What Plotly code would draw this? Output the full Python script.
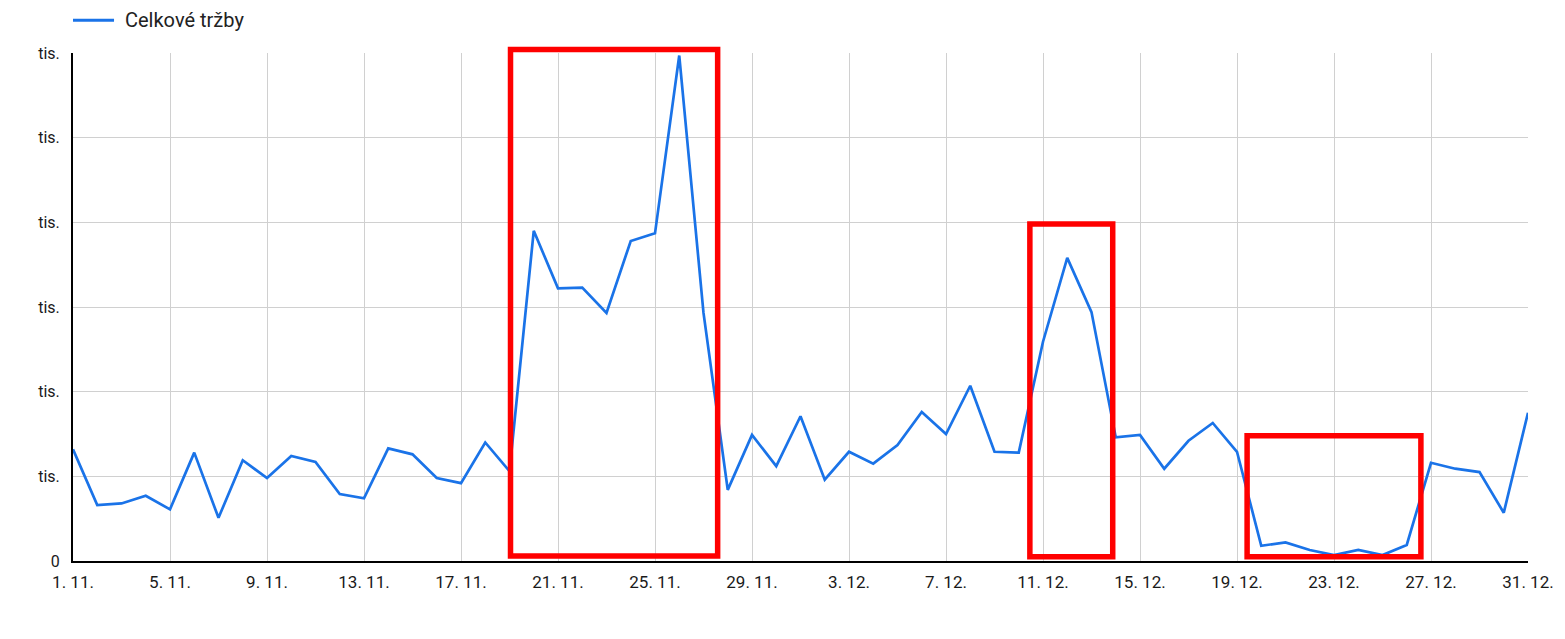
import plotly.graph_objects as go
import pandas as pd

dates = pd.date_range("2023-11-01", "2023-12-31", freq="D").strftime("%Y-%m-%d").tolist()
sales_thousands = [
    1.32, 0.66, 0.68, 0.77, 0.61, 1.28, 0.51, 1.19, 0.98, 1.24,
    1.17, 0.79, 0.74, 1.33, 1.26, 0.98, 0.92, 1.40, 1.06, 3.90,
    3.22, 3.23, 2.93, 3.78, 3.87, 5.97, 2.93, 0.84, 1.49, 1.12,
    1.71, 0.96, 1.29, 1.15, 1.37, 1.76, 1.50, 2.07, 1.29, 1.28,
    2.59, 3.58, 2.94, 1.46, 1.49, 1.09, 1.42, 1.63, 1.29, 0.18,
    0.22, 0.13, 0.07, 0.13, 0.07, 0.19, 1.16, 1.09, 1.05, 0.57,
    1.75,
]
series_name = "Celkové tržby"
y_tickvals = [0, 1, 2, 3, 4, 5, 6]
y_ticktext = ["0", "tis.", "tis.", "tis.", "tis.", "tis.", "tis."]

# highlight boxes (x0, x1 as datetimes, y0, y1 in thousands)
highlight_boxes = [
    ("2023-11-19 01:00", "2023-11-27 14:00", 0.06, 6.04),
    ("2023-12-10 11:00", "2023-12-13 21:00", 0.05, 3.98),
    ("2023-12-19 10:00", "2023-12-26 14:00", 0.05, 1.48),
]

x_start = pd.Timestamp(dates[0])
x_end = pd.Timestamp(dates[-1])
y_max = 6.0
line_color = "#1a73e8"


def xpaper(d):
    return (pd.Timestamp(d) - x_start) / (x_end - x_start)


fig = go.Figure()
fig.add_trace(go.Scatter(
    x=dates, y=sales_thousands, mode="lines", name=series_name,
    line=dict(color=line_color, width=2.7), showlegend=False,
))

for x0, x1, y0, y1 in highlight_boxes:
    fig.add_shape(type="rect", x0=xpaper(x0), x1=xpaper(x1), y0=y0 / y_max, y1=y1 / y_max,
                  xref="paper", yref="paper",
                  line=dict(color="#ff0000", width=5.5), fillcolor="rgba(0,0,0,0)",
                  layer="above")

# legend drawn at top-left
fig.add_shape(type="line", xref="paper", yref="paper", x0=0.0, x1=0.0282,
              y0=1.0645, y1=1.0645, line=dict(color=line_color, width=3))
fig.add_annotation(xref="paper", yref="paper", x=0.0345, y=1.0645, text=series_name,
                   showarrow=False, xanchor="left", yanchor="middle",
                   font=dict(family="Roboto", size=20, color="#222222"))

fig.update_layout(
    width=1557, height=631,
    margin=dict(l=65, r=37, t=45, b=78, autoexpand=False),
    paper_bgcolor="white", plot_bgcolor="white",
    font=dict(family="Roboto", size=16, color="#222222"),
    showlegend=False,
    xaxis=dict(
        type="date", range=[dates[0], dates[-1]],
        tick0=dates[0], dtick=4 * 24 * 3600 * 1000,
        tickformat="%-d. %-m.", showgrid=True, gridcolor="#d0d0d0", gridwidth=1,
        showline=True, linecolor="#000000", linewidth=2,
        ticks="", ticklabelstandoff=5, tickfont=dict(size=17, color="#1a1a1a"),
        zeroline=False,
    ),
    yaxis=dict(
        range=[0, y_max], tickvals=y_tickvals, ticktext=y_ticktext,
        showgrid=True, gridcolor="#d0d0d0", gridwidth=1,
        showline=True, linecolor="#000000", linewidth=2,
        ticks="", ticklabelstandoff=8, tickfont=dict(size=16, color="#1a1a1a"), zeroline=False,
    ),
)

fig.write_html("out.html")
